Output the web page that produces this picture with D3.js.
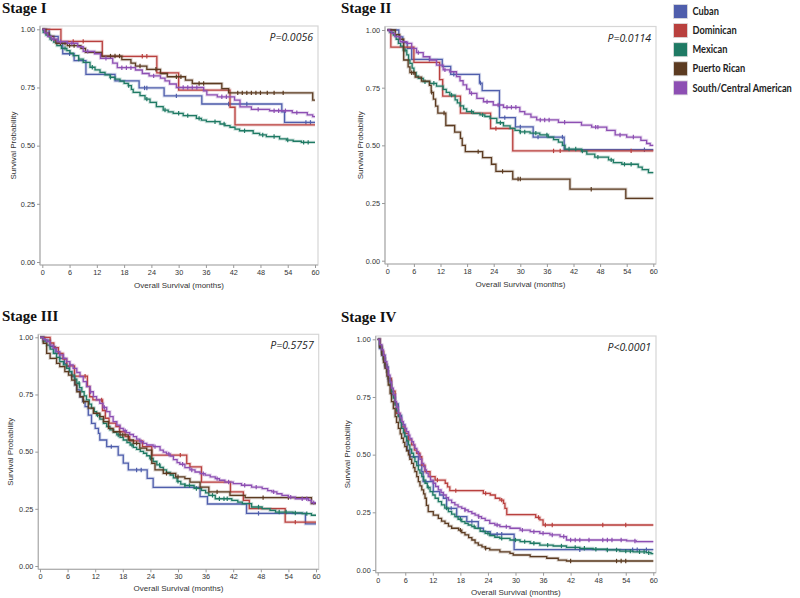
<!DOCTYPE html>
<html><head><meta charset="utf-8">
<script src="https://cdn.jsdelivr.net/npm/d3@7"></script>
<style>
html,body{margin:0;padding:0;background:#fff;}
svg{display:block;}
</style></head>
<body>
<svg id="chart" width="800" height="598"></svg>
<script>
// ---------------- DATA ----------------
const groups = ["Cuban","Dominican","Mexican","Puerto Rican","South/Central American"];
const groupColors = ["#4f5eac","#b9403e","#1f7a64","#5c3b21","#8d4fb3"];
const monthTicks = [0,6,12,18,24,30,36,42,48,54,60];
const survTicks = [0,0.25,0.5,0.75,1];
const survTickLabels = ["0.00","0.25","0.50","0.75","1.00"];
const stageTitles = ["Stage I","Stage II","Stage III","Stage IV"];
const pValues = ["P=0.0056","P=0.0114","P=0.5757","P<0.0001"];

// Stage I  [month, survival after step]
const s1_cuban = [[0,1],[1.5,0.97],[3.5,0.94],[4.5,0.895],[7,0.865],[9.6,0.806],[16,0.778],[21.3,0.748],[26.8,0.714],[35.1,0.679],[52.7,0.645],[53.3,0.6]];
const s1_dominican = [[0,1],[4.1,0.948],[13.2,0.884],[25.2,0.813],[30,0.739],[41.3,0.665],[42.4,0.589]];
const s1_mexican = [[0,1],[0.2,0.987],[0.8,0.975],[1.7,0.958],[2.5,0.945],[3.2,0.93],[4.2,0.918],[5.4,0.908],[6.1,0.897],[6.8,0.887],[8,0.872],[9,0.858],[10.5,0.837],[11.6,0.826],[12.7,0.815],[13.8,0.804],[14.9,0.794],[16,0.786],[17.1,0.777],[18,0.768],[18.9,0.758],[19.6,0.742],[20,0.729],[21.5,0.715],[22.6,0.7],[23.7,0.686],[25.1,0.668],[26.6,0.653],[27.7,0.645],[28.8,0.639],[31,0.629],[33.9,0.617],[35,0.61],[36.1,0.603],[39.1,0.593],[40.2,0.586],[41.3,0.579],[42.4,0.571],[43.4,0.564],[46.4,0.553],[47.8,0.546],[49.3,0.539],[52.2,0.529],[53.7,0.524],[55.2,0.519],[57,0.514]];
const s1_puertoRican = [[0,1],[0.8,0.985],[1.5,0.97],[2.5,0.955],[3,0.94],[5.5,0.93],[8.5,0.918],[9.5,0.901],[13,0.885],[17.5,0.87],[19.5,0.855],[20.5,0.842],[23,0.828],[26,0.81],[27.5,0.796],[31.5,0.782],[33,0.767],[39.5,0.745],[41,0.727],[59.5,0.696]];
const s1_southCentral = [[0,1],[0.5,0.985],[1.2,0.97],[2,0.958],[3.3,0.947],[5.5,0.94],[7.8,0.925],[9,0.905],[11.5,0.895],[12.8,0.875],[15.5,0.855],[16.5,0.835],[20.5,0.825],[22,0.81],[23.5,0.8],[26,0.79],[27,0.778],[28,0.765],[29.5,0.75],[35.5,0.735],[36.2,0.718],[38.5,0.71],[42.3,0.696],[43.5,0.667],[46,0.656],[50,0.65],[55,0.642],[58.3,0.632],[59.5,0.625]];
const s1_cuban_cens = [6,22.5,23,29.5,41,45,58,59];
const s1_dominican_cens = [6.8,9,22,23];
const s1_mexican_cens = [2,5,8,11,15,19,23,27,30,32,34.5,38,40,44.5,48.5,51,54,57.5,58.5];
const s1_puertoRican_cens = [4,5,6,7,15,16,17,21.5,25,29.5,30.5,34.5,35.5,43,44,45,46,47,48,49.5,51,53];
const s1_southCentral_cens = [2.5,4,6.5,10,14,17.5,18.5,19.5,24.5,31,32,33,34,39.5,40.5,47.5,51,52,53.5,56];

// Stage II
const s2_cuban = [[0,1],[2.6,0.97],[3.5,0.945],[4.5,0.92],[5.5,0.873],[12.4,0.842],[14.3,0.808],[20.8,0.77],[21.4,0.737],[25.3,0.62],[28.9,0.58],[32.9,0.536],[39.9,0.481]];
const s2_dominican = [[0,1],[0.8,0.926],[6.0,0.86],[11.8,0.785],[12.5,0.713],[16.5,0.64],[23.3,0.573],[28.3,0.476]];
const s2_mexican = [[0,1],[0.6,0.99],[1.35,0.978],[2,0.96],[2.5,0.942],[3,0.93],[3.6,0.913],[4.4,0.892],[4.8,0.87],[5.1,0.855],[5.6,0.835],[6,0.815],[6.5,0.8],[7,0.79],[8.1,0.776],[9.6,0.769],[11.1,0.757],[12.6,0.743],[13.3,0.73],[14.1,0.718],[15.3,0.697],[15.8,0.684],[16.4,0.671],[17.2,0.658],[17.9,0.646],[19.4,0.639],[20.9,0.632],[22,0.625],[23.2,0.617],[24.7,0.598],[26.2,0.584],[27.7,0.574],[28.8,0.565],[29.9,0.558],[32.2,0.553],[34.4,0.545],[36.3,0.536],[37.5,0.525],[38.6,0.514],[39.5,0.5],[40.1,0.484],[43.8,0.475],[45,0.462],[46.8,0.449],[49.9,0.437],[51,0.425],[52.9,0.418],[56.6,0.406],[57.5,0.395],[58.9,0.382]];
const s2_puertoRican = [[0,1],[1.8,0.98],[2.8,0.96],[3.7,0.87],[4.7,0.84],[5.1,0.815],[6.3,0.796],[7.7,0.778],[9.5,0.76],[9.9,0.73],[10.4,0.7],[10.9,0.67],[11.4,0.64],[13.2,0.586],[15.2,0.557],[16.5,0.53],[16.9,0.5],[17.6,0.473],[21.5,0.447],[23.5,0.418],[24.5,0.387],[28.3,0.354],[41.2,0.31],[53.8,0.27]];
const s2_southCentral = [[0,1],[0.5,0.993],[1,0.985],[1.7,0.971],[2.9,0.949],[4.4,0.942],[5.5,0.92],[6.6,0.902],[8.1,0.884],[9.6,0.87],[11.1,0.848],[12.6,0.827],[14.1,0.819],[15.6,0.798],[16.4,0.78],[17.1,0.762],[17.9,0.744],[18.6,0.725],[20.2,0.704],[21.7,0.689],[23.9,0.675],[26.2,0.665],[29.9,0.646],[31,0.635],[32.4,0.622],[33.7,0.61],[38.6,0.6],[43.8,0.588],[46.1,0.579],[49.5,0.565],[51.4,0.545],[54,0.536],[57.2,0.522],[58.5,0.508],[59.3,0.5]];
const s2_cuban_cens = [9.5,15,21,26.5,30,34,39.5,58];
const s2_dominican_cens = [24.5,37.5,39,55];
const s2_mexican_cens = [4,8.5,10.5,14.5,19,21.5,25.5,30,31,33.5,36,41,42.5,44,47.5,50.5,53.5,55];
const s2_puertoRican_cens = [5.5,6,10,12.8,20.5,26,29.5,30,46];
const s2_southCentral_cens = [7,13,19,22.5,25,27,28,29,34.5,35.5,36.5,40,47,47.5,52.5,55.5];

// Stage III
const s3_cuban = [[0,1],[1.1,0.988],[2.2,0.959],[3.3,0.93],[4.3,0.908],[5.3,0.885],[5.8,0.872],[6.4,0.85],[6.9,0.828],[7.6,0.792],[8,0.77],[8.7,0.74],[9.3,0.72],[9.8,0.697],[10.5,0.66],[11.2,0.624],[12,0.602],[12.7,0.58],[13,0.551],[14.5,0.522],[17,0.485],[18.1,0.45],[19.2,0.42],[23.3,0.383],[24.6,0.344],[34.8,0.303],[36.4,0.271],[44.9,0.23],[57.7,0.184]];
const s3_dominican = [[0,1],[2.2,0.975],[3,0.955],[4,0.93],[5,0.905],[5.8,0.875],[7.5,0.83],[10.3,0.785],[10.8,0.74],[11.5,0.726],[13.6,0.68],[14.2,0.646],[15,0.625],[16.5,0.61],[17.3,0.587],[18.5,0.566],[19.5,0.547],[22.3,0.522],[24.3,0.485],[31.9,0.448],[32.6,0.433],[35.1,0.367],[41.4,0.324],[44.2,0.287],[45.5,0.251],[53.3,0.192]];
const s3_mexican = [[0,1],[0.7,0.983],[1.45,0.966],[2.2,0.948],[2.9,0.93],[3.6,0.912],[4.3,0.894],[5.1,0.879],[5.8,0.864],[6.4,0.85],[6.9,0.835],[7.5,0.817],[8,0.799],[8.6,0.78],[9.1,0.762],[9.6,0.744],[10.1,0.726],[10.7,0.708],[11.2,0.69],[11.8,0.675],[12.3,0.66],[13,0.642],[13.8,0.624],[14.5,0.61],[15.2,0.595],[16,0.584],[16.7,0.573],[17.4,0.562],[18.1,0.551],[18.9,0.54],[19.6,0.529],[20.3,0.519],[21,0.51],[21.8,0.501],[22.5,0.493],[23.2,0.482],[23.9,0.471],[24.6,0.457],[25.4,0.442],[26.1,0.431],[26.8,0.42],[27.5,0.409],[28.3,0.398],[29,0.385],[29.8,0.37],[30.6,0.358],[31.5,0.352],[33.5,0.339],[35.1,0.331],[36,0.32],[36.7,0.309],[38.1,0.294],[41.7,0.287],[43,0.279],[44,0.273],[46,0.258],[48.3,0.251],[50,0.243],[51.2,0.236],[55,0.232],[57,0.229],[59,0.222]];
const s3_puertoRican = [[0,1],[0.7,0.974],[1.45,0.93],[2.2,0.908],[3.6,0.886],[4.3,0.872],[5.4,0.85],[6.2,0.835],[6.9,0.813],[7.6,0.792],[8,0.762],[8.7,0.74],[9.4,0.719],[10.5,0.69],[11.6,0.668],[13,0.653],[13.8,0.631],[14.9,0.602],[15.9,0.587],[17.4,0.573],[19.2,0.551],[20.3,0.536],[21.7,0.515],[23.2,0.507],[24.3,0.449],[25,0.42],[26.8,0.405],[29.5,0.39],[31.5,0.382],[32.6,0.367],[34.8,0.345],[36.7,0.324],[41.3,0.309],[44.6,0.299],[59,0.273]];
const s3_southCentral = [[0,1],[0.7,0.99],[1.45,0.981],[2.2,0.966],[2.9,0.952],[3.6,0.937],[4.3,0.923],[5.1,0.908],[5.8,0.894],[6.5,0.879],[7.2,0.864],[8,0.846],[8.7,0.828],[9.4,0.806],[10.1,0.784],[10.9,0.762],[11.6,0.741],[12.3,0.726],[13,0.711],[13.7,0.693],[14.5,0.675],[15.2,0.653],[15.9,0.631],[16.7,0.616],[17.4,0.602],[18.1,0.592],[18.8,0.583],[19.5,0.575],[20.3,0.566],[21,0.555],[21.7,0.544],[22.5,0.536],[23.2,0.529],[24.6,0.522],[26.1,0.507],[26.8,0.498],[27.5,0.49],[28.3,0.48],[29,0.465],[29.8,0.452],[30.4,0.445],[31.5,0.43],[32.6,0.42],[33.7,0.411],[34.8,0.404],[35.9,0.397],[37,0.39],[38.1,0.382],[39,0.375],[40.2,0.367],[42,0.36],[43.8,0.353],[46,0.345],[48.3,0.338],[49.5,0.33],[50.4,0.324],[51.5,0.316],[52.6,0.309],[54,0.301],[55.5,0.294],[58.4,0.287],[59,0.277]];
const s3_cuban_cens = [15.5,21,22,47.5];
const s3_dominican_cens = [9.8,13.4,30.5,55.5];
const s3_mexican_cens = [8.5,12.5,17,20,24,26,30,31.5,32.5,34,37.5,39,40,40.7,47.5,52,53.5,55.5,58];
const s3_puertoRican_cens = [9.5,18,21,27.5,30,38.5,48.5,54];
const s3_southCentral_cens = [6.5,11,14,18.5,22,25,28,31,33,35.5,38.5,41,44.5,47,50.8,54.5,57,58,59.5];

// Stage IV
const s4_cuban = [[0,1],[0.4,0.96],[0.9,0.93],[1.6,0.88],[2.3,0.82],[3,0.76],[3.8,0.72],[4.5,0.67],[5.2,0.63],[5.9,0.58],[6.4,0.52],[7,0.491],[8.85,0.455],[9.6,0.426],[9.9,0.383],[12.1,0.34],[13.5,0.325],[14.3,0.311],[15,0.267],[17.2,0.231],[19.4,0.21],[21.9,0.181],[23,0.166],[24.5,0.155],[29.7,0.088]];
const s4_dominican = [[0,1],[0.5,0.97],[0.9,0.947],[1.3,0.915],[1.6,0.889],[2,0.86],[2.3,0.83],[3,0.775],[3.8,0.72],[4.1,0.679],[4.8,0.65],[5.2,0.62],[5.9,0.592],[6.7,0.564],[7.4,0.542],[8,0.52],[8.5,0.506],[9.2,0.491],[9.6,0.455],[10.3,0.426],[11.4,0.405],[12.5,0.39],[14.7,0.376],[15.2,0.36],[15.7,0.344],[23,0.332],[24.5,0.325],[25.6,0.311],[26.6,0.303],[27.4,0.289],[27.7,0.267],[28.1,0.24],[34.4,0.228],[35.3,0.217],[36,0.195]];
const s4_mexican = [[0,1],[0.4,0.97],[0.86,0.939],[1.2,0.915],[1.6,0.889],[2,0.86],[2.3,0.831],[2.7,0.8],[3,0.773],[3.4,0.745],[3.8,0.715],[4.1,0.69],[4.5,0.665],[4.9,0.64],[5.2,0.614],[5.6,0.595],[5.9,0.578],[6.3,0.56],[6.7,0.542],[7,0.524],[7.4,0.506],[7.8,0.488],[8.1,0.47],[8.5,0.452],[8.85,0.434],[9.2,0.42],[9.6,0.405],[10,0.39],[10.3,0.376],[10.8,0.358],[11.4,0.34],[12,0.325],[12.5,0.311],[13.2,0.296],[13.9,0.282],[14.6,0.268],[15.4,0.253],[16.1,0.242],[16.8,0.231],[17.5,0.22],[18.3,0.21],[19,0.202],[19.7,0.195],[20.5,0.188],[21.2,0.181],[22.3,0.168],[23.4,0.159],[24.4,0.149],[25.5,0.142],[26.6,0.137],[28.8,0.13],[31,0.123],[33.2,0.116],[35.3,0.108],[38.2,0.104],[41.1,0.098],[44,0.094],[46.9,0.09],[49.8,0.087],[52.7,0.082],[55.6,0.079],[58.5,0.075],[59.5,0.071]];
const s4_puertoRican = [[0,1],[0.45,0.965],[0.9,0.932],[1.25,0.9],[1.6,0.874],[2,0.84],[2.3,0.802],[2.7,0.765],[3,0.73],[3.4,0.7],[3.8,0.665],[4.1,0.64],[4.5,0.614],[4.9,0.59],[5.2,0.571],[5.6,0.553],[5.9,0.535],[6.3,0.517],[6.7,0.499],[7,0.48],[7.4,0.462],[7.8,0.444],[8.1,0.426],[8.5,0.405],[8.85,0.383],[9.2,0.365],[9.6,0.347],[10,0.33],[10.3,0.311],[10.6,0.28],[11,0.253],[12.1,0.238],[13.2,0.224],[13.9,0.212],[14.65,0.202],[15.4,0.19],[16.1,0.181],[17.6,0.173],[18.3,0.162],[19,0.152],[19.8,0.14],[20.5,0.13],[21.2,0.118],[21.9,0.108],[22.7,0.1],[23.4,0.094],[24.4,0.087],[26.6,0.079],[28.8,0.072],[29.5,0.065],[33.2,0.058],[36.8,0.051],[39.3,0.043],[41.1,0.039]];
const s4_southCentral = [[0,1],[0.45,0.977],[0.9,0.954],[1.25,0.93],[1.6,0.903],[2,0.875],[2.3,0.845],[2.7,0.815],[3,0.788],[3.4,0.76],[3.8,0.73],[4.1,0.705],[4.5,0.679],[4.9,0.66],[5.2,0.643],[5.6,0.628],[5.9,0.614],[6.3,0.6],[6.7,0.585],[7,0.57],[7.4,0.556],[7.8,0.541],[8.1,0.527],[8.5,0.513],[8.85,0.499],[9.2,0.48],[9.6,0.462],[10,0.448],[10.3,0.434],[10.6,0.42],[11,0.405],[11.5,0.39],[12.1,0.376],[12.6,0.362],[13.2,0.347],[13.8,0.336],[14.3,0.325],[14.9,0.314],[15.4,0.303],[16.1,0.292],[16.8,0.282],[17.5,0.274],[18.3,0.267],[19,0.26],[19.7,0.253],[20.5,0.245],[21.2,0.238],[21.9,0.231],[22.6,0.224],[23.4,0.215],[24.4,0.202],[25.5,0.195],[26.6,0.188],[28.8,0.181],[31,0.173],[33.2,0.166],[35.3,0.159],[37.5,0.152],[39.7,0.145],[41.1,0.13],[54.2,0.126],[56.3,0.123]];
const s4_cuban_cens = [10.5,16,20.5,26,27,44,55.5,56.5,58.5];
const s4_dominican_cens = [8.9,13,17,23.5,27,35,36.5,38,49,54];
const s4_mexican_cens = [11,15,18,21,24,27,30,32,34,37,40,43,45,47.5,50,52,54,55,57,58,59];
const s4_puertoRican_cens = [18,23.5,42,52,53,54];
const s4_southCentral_cens = [19,22,26,28,31.5,34,36,38,40.5,42,43,44,46,49,50,51,53,56];

// ---------------- LAYOUT ----------------
const panels = [
  {curves:[s1_cuban,s1_dominican,s1_mexican,s1_puertoRican,s1_southCentral],
   cens:[s1_cuban_cens,s1_dominican_cens,s1_mexican_cens,s1_puertoRican_cens,s1_southCentral_cens],
   frame:{l:40,t:26,r:318,b:265}, xr:[42.3,315], yr:[262,29.3], title:[2,13], ylabX:13, xlabY:288},
  {curves:[s2_cuban,s2_dominican,s2_mexican,s2_puertoRican,s2_southCentral],
   cens:[s2_cuban_cens,s2_dominican_cens,s2_mexican_cens,s2_puertoRican_cens,s2_southCentral_cens],
   frame:{l:385,t:26.5,r:656,b:264}, xr:[387.3,653.3], yr:[260.7,30], title:[341,13], ylabX:360, xlabY:287},
  {curves:[s3_cuban,s3_dominican,s3_mexican,s3_puertoRican,s3_southCentral],
   cens:[s3_cuban_cens,s3_dominican_cens,s3_mexican_cens,s3_puertoRican_cens,s3_southCentral_cens],
   frame:{l:38.3,t:334.3,r:318.7,b:569.3}, xr:[40,316], yr:[566,337.3], title:[2,321], ylabX:10.5, xlabY:591},
  {curves:[s4_cuban,s4_dominican,s4_mexican,s4_puertoRican,s4_southCentral],
   cens:[s4_cuban_cens,s4_dominican_cens,s4_mexican_cens,s4_puertoRican_cens,s4_southCentral_cens],
   frame:{l:375.7,t:336,r:656,b:572.7}, xr:[377.7,653.3], yr:[570,339.3], title:[341,322], ylabX:347.5, xlabY:595}
];

const svg = d3.select("#chart");
const tickFont = "'Liberation Sans', Arial, sans-serif";

panels.forEach((p, pi) => {
  const g = svg.append("g");
  const x = d3.scaleLinear().domain([0,60]).range(p.xr);
  const y = d3.scaleLinear().domain([0,1]).range(p.yr);
  const f = p.frame;

  // frame
  g.append("rect").attr("x",f.l).attr("y",f.t).attr("width",f.r-f.l).attr("height",f.b-f.t)
    .attr("fill","none").attr("stroke","#d6d6d6").attr("stroke-width",1.2);
  g.append("line").attr("x1",f.l).attr("x2",f.l).attr("y1",f.t).attr("y2",f.b).attr("stroke","#b0b0b0").attr("stroke-width",1.2);
  g.append("line").attr("x1",f.l).attr("x2",f.r).attr("y1",f.b).attr("y2",f.b).attr("stroke","#b0b0b0").attr("stroke-width",1.2);

  // axes
  const xa = g.append("g").attr("transform",`translate(0,${f.b})`)
    .call(d3.axisBottom(x).tickValues(monthTicks).tickFormat(d3.format("d")).tickSize(3).tickSizeOuter(0).tickPadding(2));
  const ya = g.append("g").attr("transform",`translate(${f.l},0)`)
    .call(d3.axisLeft(y).tickValues(survTicks).tickFormat((d,i)=>survTickLabels[i]).tickSize(3).tickSizeOuter(0).tickPadding(2));
  [xa,ya].forEach(a=>{
    a.select(".domain").remove();
    a.selectAll(".tick line").attr("stroke","#999");
    a.selectAll(".tick text").attr("fill","#333").style("font-family",tickFont).style("font-size","7.3px");
  });

  // axis labels
  g.append("text").attr("x",(f.l+f.r)/2).attr("y",p.xlabY).attr("text-anchor","middle")
    .style("font-family",tickFont).style("font-size","8px").attr("fill","#333").text("Overall Survival (months)");
  g.append("text").attr("transform",`translate(${p.ylabX},${(f.t+f.b)/2}) rotate(-90)`).attr("text-anchor","middle")
    .attr("dy","0.35em").style("font-family",tickFont).style("font-size","8px").attr("fill","#333").text("Survival Probability");

  // title
  g.append("text").attr("x",p.title[0]).attr("y",p.title[1])
    .style("font-family","'Liberation Serif','Times New Roman',serif").style("font-weight","bold").style("font-size","15px")
    .attr("fill","#111").text(stageTitles[pi]);

  // p-value
  g.append("text").attr("x",f.r-5).attr("y",f.t+15).attr("text-anchor","end")
    .style("font-family","'Open Sans', 'Noto Sans', sans-serif").style("font-style","italic").style("font-size","10.5px")
    .attr("fill","#222").text(pValues[pi]);

  // curves
  const line = d3.line().x(d=>x(d[0])).y(d=>y(d[1])).curve(d3.curveStepAfter);
  const bis = d3.bisector(d=>d[0]).right;
  p.curves.forEach((c, ci) => {
    const pts = c.concat([[60, c[c.length-1][1]]]);
    g.append("path").attr("d",line(pts)).attr("fill","none").attr("stroke",groupColors[ci])
      .attr("stroke-width",3.2).attr("stroke-opacity",0.22);
    g.append("path").attr("d",line(pts)).attr("fill","none").attr("stroke",groupColors[ci])
      .attr("stroke-width",1.3);
    // censor ticks
    g.selectAll(null).data(p.cens[ci]).enter().append("line")
      .attr("x1",d=>x(d)).attr("x2",d=>x(d))
      .attr("y1",d=>y(c[Math.max(0,bis(c,d)-1)][1])-2.2)
      .attr("y2",d=>y(c[Math.max(0,bis(c,d)-1)][1])+2.2)
      .attr("stroke",groupColors[ci]).attr("stroke-width",1.2);
  });
});

// legend
const lg = svg.append("g");
groups.forEach((name,i)=>{
  lg.append("rect").attr("x",673.5).attr("y",4.5+i*19.1).attr("width",14).attr("height",14)
    .attr("fill",groupColors[i]).attr("stroke","#ddd").attr("stroke-width",0.8);
  lg.append("text").attr("transform",`translate(692.5,${11.5+i*19.1}) scale(0.88,1)`).attr("dy","0.35em")
    .style("font-family","Lato, 'Open Sans', sans-serif").style("font-weight","bold").style("font-size","10.5px")
    .attr("fill","#222").text(name);
});
</script>
</body></html>
